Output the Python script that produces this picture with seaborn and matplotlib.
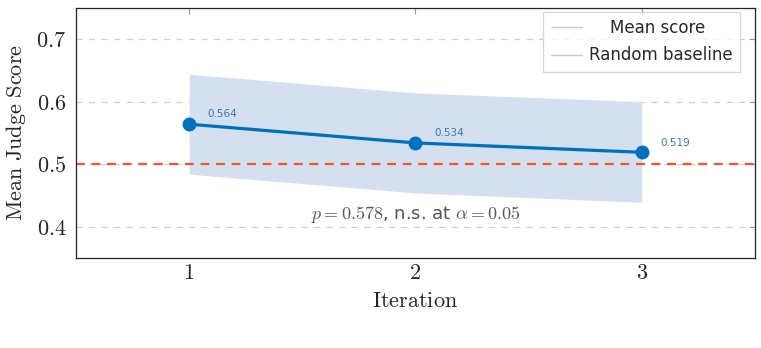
import numpy as np
import pandas as pd
import matplotlib.pyplot as plt
import seaborn as sns
from matplotlib.lines import Line2D

# data
iterations = [1, 2, 3]
mean_score = [0.564, 0.534, 0.519]
band_low = [0.484, 0.454, 0.439]
band_high = [0.644, 0.614, 0.600]
baseline = 0.5
y_ticks = [0.4, 0.5, 0.6, 0.7]
x_ticks = [1, 2, 3]
legend_labels = ["Mean score", "Random baseline"]

df = pd.DataFrame({"iteration": iterations, "score": mean_score})

sns.set_style("white")
plt.rcParams["font.family"] = ["DejaVu Sans"]
plt.rcParams["mathtext.fontset"] = "cm"

fig, ax = plt.subplots(figsize=(7.61, 3.48), dpi=100)
fig.subplots_adjust(left=0.0999, right=0.992, top=0.977, bottom=0.259)

line_col = "#0072bd"
band_col = "#d4dff0"
base_col = "#f0562a"

# confidence band
ax.fill_between(iterations, band_low, band_high, color=band_col, lw=0, zorder=1)

# grid lines
for y in y_ticks:
    ax.axhline(y, color="#d0d0d0", lw=0.9, ls=(0, (5, 5)), zorder=0)

# random baseline
ax.axhline(baseline, color=base_col, lw=1.6, ls=(0, (4, 3)), zorder=2)

# mean score line
sns.lineplot(data=df, x="iteration", y="score", ax=ax, color=line_col,
             lw=2.3, marker="o", markersize=10, markeredgewidth=0, zorder=3)

for x, y in zip(iterations, mean_score):
    ax.annotate(f"{y:.3f}", (x, y), xytext=(24, 7), textcoords="offset points",
                ha="center", va="center", fontsize=7.5, color="#3a78b4")

ax.text(2, 0.42, r"$p = 0.578$, n.s. at $\alpha = 0.05$", ha="center",
        va="center", fontsize=13, color="#555555")

ax.set_xlim(0.5, 3.5)
ax.set_ylim(0.35, 0.75)
ax.set_xticks(x_ticks)
ax.set_xticklabels([f"${v}$" for v in x_ticks], fontsize=16)
ax.set_yticks(y_ticks)
ax.set_yticklabels([f"${v}$" for v in y_ticks], fontsize=16)
ax.tick_params(direction="in", length=4, color="#999999", top=True, right=True,
               width=0.8)
ax.tick_params(axis="y", pad=7)
ax.set_xlabel(r"$\mathrm{Iteration}$", fontsize=16, labelpad=6)
ax.set_ylabel(r"$\mathrm{Mean\ Judge\ Score}$", fontsize=16, labelpad=6)

for s in ax.spines.values():
    s.set_color("#222222")
    s.set_linewidth(0.9)

# centre the shorter legend label by padding it with spaces
renderer = fig.canvas.get_renderer()
def text_w(s):
    t = fig.text(0, 0, s, fontsize=12)
    w = t.get_window_extent(renderer).width
    t.remove()
    return w
widest = max(text_w(l) for l in legend_labels)
padded = []
for l in legend_labels:
    n = 0
    while text_w(" " * (n + 1) + l) <= (widest + text_w(l)) / 2 + 2:
        n += 1
    padded.append(" " * n + l)

handles = [Line2D([], [], color="#c8c8c8", lw=1),
           Line2D([], [], color="#c8c8c8", lw=1)]
leg = ax.legend(handles, padded, loc="upper right",
                bbox_to_anchor=(0.978, 0.985),
                fontsize=12, frameon=True, fancybox=False, handlelength=1.9,
                handletextpad=0.4, borderaxespad=0.0, borderpad=0.45,
                labelspacing=0.55)
leg.get_frame().set_edgecolor("#cccccc")
leg.get_frame().set_linewidth(0.9)

fig.savefig("out.png", dpi=100)
